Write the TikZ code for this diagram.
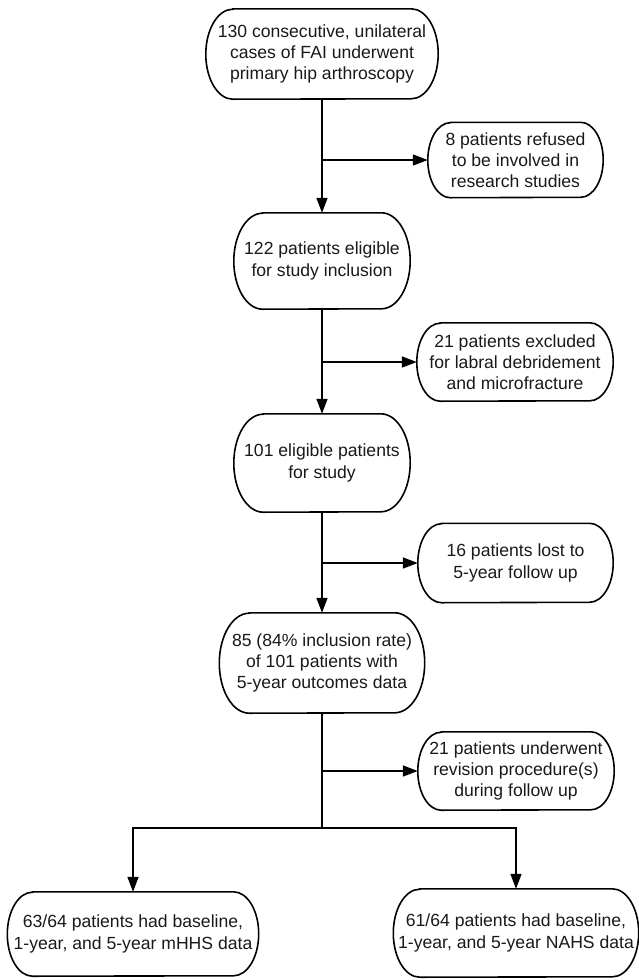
\documentclass[tikz,border=0pt]{standalone}
\usepackage{fontspec}
\setmainfont{Liberation Sans}
\usetikzlibrary{arrows.meta,calc}
\tikzset{
  txt/.style={draw=none, inner sep=0pt, align=center, text=black!90,
    font=\fontsize{17.6}{21.2}\selectfont},
  boxline/.style={line width=1.6pt, draw=black},
  conn/.style={line width=1.6pt, draw=black},
  arr/.style={conn, -{Triangle[length=15pt,width=11pt]}},
}
\newcommand\termbox[6]{%
  \node[txt, minimum width=#4pt, minimum height=#5pt] (#1) at (#2,#3) {#6};
  \draw[boxline] ([xshift=0.3*#5pt]#1.north west) -- ([xshift=-0.3*#5pt]#1.north east)
    arc[start angle=90,end angle=-90,x radius=0.3*#5pt,y radius=0.5*#5pt]
    -- ([xshift=0.3*#5pt]#1.south west)
    arc[start angle=270,end angle=90,x radius=0.3*#5pt,y radius=0.5*#5pt] -- cycle;
}
\begin{document}
\begin{tikzpicture}[x=1pt,y=-1pt]
\useasboundingbox (0,0) rectangle (638,980);
\termbox{b1}{322}{54}{232}{90}{130 consecutive, unilateral\\cases of FAI underwent\\primary hip arthroscopy}
\termbox{r1}{515.5}{160}{175}{75}{8 patients refused\\to be involved in\\research studies}
\termbox{b2}{322}{261}{176}{96}{122 patients eligible\\for study inclusion}
\termbox{r2}{515}{362}{196}{78}{21 patients excluded\\for labral debridement\\and microfracture}
\termbox{b3}{322}{463}{176}{98}{101 eligible patients\\for study}
\termbox{r3}{515.5}{563}{195}{79}{16 patients lost to\\5-year follow up}
\termbox{b4}{322}{663}{205}{100}{85 (84\% inclusion rate)\\of 101 patients with\\5-year outcomes data}
\termbox{r4}{516}{771}{196}{78}{21 patients underwent\\revision procedure(s)\\during follow up}
\termbox{L}{133}{934}{251}{84}{63/64 patients had baseline,\\1-year, and 5-year mHHS data}
\termbox{R}{516}{933}{245}{88}{61/64 patients had baseline,\\1-year, and 5-year NAHS data}

\coordinate (j1) at (322,160);
\coordinate (j2) at (322,362);
\coordinate (j3) at (322,563);
\coordinate (j4) at (322,771);
\coordinate (split) at (322,828);

\draw[arr] (b1.south) -- (b2.north);
\draw[arr] (b2.south) -- (b3.north);
\draw[arr] (b3.south) -- (b4.north);
\draw[conn] (b4.south) -- (split);
\draw[arr] (j1) -- (r1.west);
\draw[arr] (j2) -- (r2.west);
\draw[arr] (j3) -- (r3.west);
\draw[arr] (j4) -- (r4.west);
\draw[arr] (split) -| (L.north);
\draw[arr] (split) -| (R.north);
\end{tikzpicture}
\end{document}
